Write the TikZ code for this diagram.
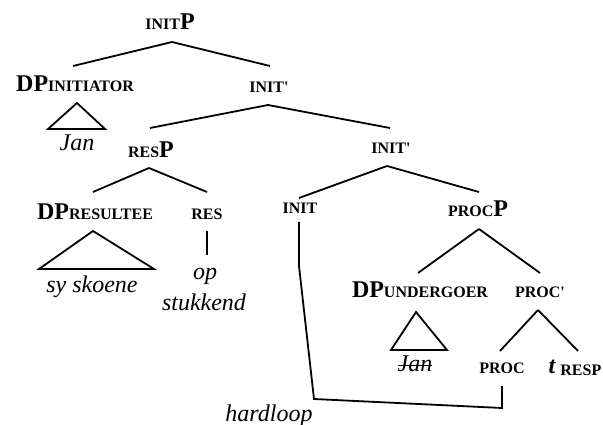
\documentclass[tikz,border=0pt]{standalone}
\usepackage{fontspec}
\setmainfont{Liberation Serif}
\newcommand\Bg[1]{{\fontsize{24}{26}\selectfont\bfseries #1}}
\newcommand\Sm[1]{{\fontsize{16}{18}\selectfont\bfseries #1}}
\newcommand\It[1]{{\fontsize{24}{26}\selectfont\itshape #1}}
\newcommand\primemark{\textquotesingle}
\begin{document}
\begin{tikzpicture}[x=1pt,y=-1pt,
  lab/.style={inner sep=0pt, anchor=base},
  edge/.style={line width=1.8pt},
  tri/.style={line width=1.8pt, line join=miter}]
\useasboundingbox (0,0) rectangle (603,425);
% labels
\node[lab] (initP) at (170,30) {\Sm{INIT}\Bg{P}};
\node[lab] (dpi) at (75,92) {\Bg{DP}\Sm{INITIATOR}};
\node[lab] (ib1) at (269,93) {\Sm{INIT\primemark}};
\node[lab] (jan1) at (77,151) {\It{Jan}};
\node[lab] (resP) at (151,158) {\Sm{RES}\Bg{P}};
\node[lab] (ib2) at (391,154) {\Sm{INIT\primemark}};
\node[lab] (dpr) at (95,219) {\Bg{DP}\Sm{RESULTEE}};
\node[lab] (res) at (207,219) {\Sm{RES}};
\node[lab] (init) at (300,214) {\Sm{INIT}};
\node[lab] (procP) at (478,217) {\Sm{PROC}\Bg{P}};
\node[lab] (sysk) at (92,292) {\It{sy skoene}};
\node[lab] (op) at (205,279) {\It{op}};
\node[lab] (stuk) at (204,310) {\It{stukkend}};
\node[lab] (dpu) at (420,297) {\Bg{DP}\Sm{UNDERGOER}};
\node[lab] (pb) at (540,297) {\Sm{PROC\primemark}};
\node[lab] (jan2) at (415,371) {\It{Jan}};
\node[lab] (proc) at (502,373) {\Sm{PROC}};
\node[lab] (tresp) at (575,373) {\Bg{\itshape t}\hspace{5pt}\raisebox{-2pt}{\Sm{RESP}}};
\node[lab] (hard) at (269,421) {\It{hardloop}};
% branches
\draw[edge] ([shift={(2,12)}]initP.base) -- ([shift={(-2,-26)}]dpi.base);
\draw[edge] ([shift={(2,12)}]initP.base) -- ([shift={(1,-27)}]ib1.base);
\draw[edge] ([shift={(-1,12)}]ib1.base) -- ([shift={(-1,-30)}]resP.base);
\draw[edge] ([shift={(-1,12)}]ib1.base) -- ([shift={(-1,-26)}]ib2.base);
\draw[edge] ([shift={(-2,10)}]resP.base) -- ([shift={(-2,-27)}]dpr.base);
\draw[edge] ([shift={(-2,10)}]resP.base) -- ([shift={(0,-27)}]res.base);
\draw[edge] ([shift={(-4,12)}]ib2.base) -- ([shift={(-1,-16)}]init.base);
\draw[edge] ([shift={(-4,12)}]ib2.base) -- ([shift={(1,-25)}]procP.base);
\draw[edge] ([shift={(1,12)}]procP.base) -- ([shift={(-2,-24)}]dpu.base);
\draw[edge] ([shift={(1,12)}]procP.base) -- ([shift={(0,-24)}]pb.base);
\draw[edge] ([shift={(-2,13)}]pb.base) -- ([shift={(-2,-22)}]proc.base);
\draw[edge] ([shift={(-2,13)}]pb.base) -- ([shift={(3,-22)}]tresp.base);
\draw[edge] ([shift={(0,12)}]res.base) -- ([shift={(2,-24)}]op.base);
% triangles
\draw[tri] (77,103) -- (48,129) -- (105,129) -- cycle;
\draw[tri] (93,231) -- (39,269) -- (154,269) -- cycle;
\draw[tri] (416,312) -- (391,350) -- (447,350) -- cycle;
% strike through Jan
\draw[line width=0.9pt] ([shift={(1,-6)}]jan2.base west) -- ([shift={(-1,-6)}]jan2.base east);
% movement line
\coordinate (k1) at (299,266);
\coordinate (k2) at (314,399);
\coordinate (k3) at (502,408);
\draw[edge, line join=miter] ([shift={(-1,8)}]init.base) -- (k1) -- (k2) -- (k3) -- ([shift={(0,13)}]proc.base);
\end{tikzpicture}
\end{document}
